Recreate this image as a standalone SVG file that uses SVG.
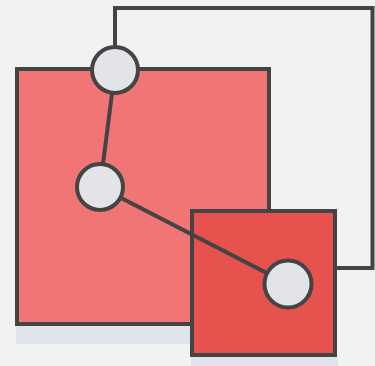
<svg xmlns="http://www.w3.org/2000/svg" width="375" height="366" viewBox="0 0 375 366">
<style>
.shadow{fill:#e0e3ea}
.box{stroke:#444444;stroke-width:4}
.wire{fill:none;stroke:#444444;stroke-width:4}
.dot{fill:#e3e4e7;stroke:#444444;stroke-width:4}
</style>
<rect width="375" height="366" fill="#f1f2f2"/>
<g id="connectors">
<path class="wire" d="M115,70 V8 H372.5 V268 H335"/>
</g>
<g id="big-square">
<rect class="shadow" x="16" y="326" width="176" height="18"/>
<rect class="box" x="17" y="69" width="252" height="255" fill="#f27575"/>
</g>
<g id="small-square">
<rect class="shadow" x="191" y="357" width="147" height="9"/>
<rect class="box" x="192" y="211" width="143" height="144" fill="#e8524e"/>
</g>
<g id="links">
<path class="wire" d="M115,70 L100,187 L288,284"/>
</g>
<g id="node-top"><circle class="dot" cx="115" cy="70" r="23"/></g>
<g id="node-mid"><circle class="dot" cx="100" cy="187" r="23"/></g>
<g id="node-right"><circle class="dot" cx="288" cy="284" r="23.5"/></g>
</svg>
